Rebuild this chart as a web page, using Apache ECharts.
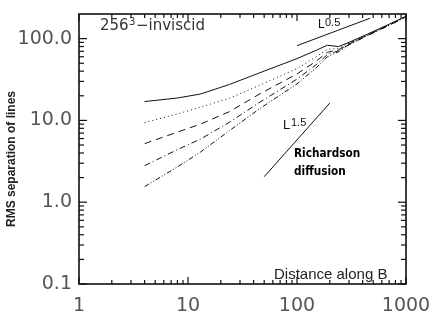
<!DOCTYPE html>
<html>
<head>
<meta charset="utf-8">
<script src="https://cdn.jsdelivr.net/npm/echarts@6/dist/echarts.min.js"></script>
<style>
  html, body { margin: 0; padding: 0; background: #fff; }
  #plot-area { width: 436px; height: 333px; }
</style>
</head>
<body>
<div id="plot-area"></div>
<script>
//--------------------- Data ---------------------------//
// Distance along B (x) and RMS separation for the five line sets
const distance = [4, 8, 13, 24, 45, 100, 150, 190, 240, 300, 420, 700, 1000];
const sepSolid = [17, 18.8, 21, 27.5, 38, 57, 72, 83, 80, 90, 110, 150, 188];
const sepDotted = [9.4, 12, 14.5, 18.7, 26.8, 43, 60, 74, 76, 88, 108, 148, 186];
const sepDashed = [5.2, 7.2, 9.0, 12.8, 20.9, 37, 53, 68, 73, 86, 107, 147, 185];
const sepDashDot = [2.8, 4.4, 5.9, 9.5, 16.5, 32, 48, 64, 71, 85, 106, 146, 185];
const sepDashDotDot = [1.55, 2.7, 4.1, 7.5, 13.8, 28, 44, 60, 69, 84, 105, 145, 184];

// Reference slopes
const halfX = [100, 470];
const halfY = [82, 178];
const richX = [50, 200];
const richY = [2.05, 16.3];

// Axis ticks
const xMajor = [1, 10, 100, 1000];
const xMinor = [2, 3, 4, 5, 6, 7, 8, 9, 20, 30, 40, 50, 60, 70, 80, 90, 200, 300, 400, 500, 600, 700, 800, 900];
const yMajor = [0.1, 1, 10, 100];
const yMinor = [0.2, 0.3, 0.4, 0.5, 0.6, 0.7, 0.8, 0.9, 2, 3, 4, 5, 6, 7, 8, 9, 20, 30, 40, 50, 60, 70, 80, 90];

const X_MIN = 1, X_MAX = 1000;
const Y_MIN = 0.1, Y_MAX = 200;

//--------------------- Functions ---------------------------//
function zip(xs, ys) {
  return xs.map((x, i) => [x, ys[i]]);
}

function lineSeries(ys, dash) {
  return {
    type: 'line',
    data: zip(distance, ys),
    showSymbol: false,
    silent: true,
    lineStyle: { color: '#111', width: 1, type: dash }
  };
}

// Inward ticks on both sides of the box, drawn through the axes
function tickSeries(values, dir, len) {
  return {
    type: 'custom',
    clip: false,
    z: 5,
    data: values.map(v => dir === 'x' ? [v, Y_MIN] : [X_MIN, v]),
    renderItem: function (params, api) {
      const st = { stroke: '#111', lineWidth: 1.2 };
      let a, b;
      if (dir === 'x') {
        a = api.coord([api.value(0), Y_MIN]);
        b = api.coord([api.value(0), Y_MAX]);
        return { type: 'group', children: [
          { type: 'line', shape: { x1: a[0], y1: a[1], x2: a[0], y2: a[1] - len }, style: st },
          { type: 'line', shape: { x1: b[0], y1: b[1], x2: b[0], y2: b[1] + len }, style: st }
        ]};
      }
      a = api.coord([X_MIN, api.value(1)]);
      b = api.coord([X_MAX, api.value(1)]);
      return { type: 'group', children: [
        { type: 'line', shape: { x1: a[0], y1: a[1], x2: a[0] + len, y2: a[1] }, style: st },
        { type: 'line', shape: { x1: b[0], y1: b[1], x2: b[0] - len, y2: b[1] }, style: st }
      ]};
    }
  };
}

function label(text, left, top, font, color, sx) {
  return {
    type: 'text', left: left, top: top, silent: true, scaleX: sx || 1,
    style: { text: text, font: font, fill: color || '#111' }
  };
}

//--------------------- Main ---------------------------//
var chartDom = document.getElementById('plot-area');
var myChart = echarts.init(chartDom, null, { renderer: 'canvas' });

const tickFont = { fontFamily: 'DejaVu Sans', fontSize: 19, color: '#555' };
const boldNarrow = 'bold 13px "DejaVu Sans Condensed", "Liberation Sans Narrow", sans-serif';

var option = {
  animation: false,
  grid: {
    left: 79, right: 30, top: 14, bottom: 49,
    show: true, borderColor: '#000', borderWidth: 1.5
  },
  xAxis: {
    type: 'log', min: X_MIN, max: X_MAX, logBase: 10,
    axisLine: { show: false },
    axisTick: { show: false },
    splitLine: { show: false },
    axisLabel: Object.assign({ margin: 13, formatter: v => String(v) }, tickFont)
  },
  yAxis: {
    type: 'log', min: Y_MIN, max: Y_MAX, logBase: 10,
    axisLine: { show: false },
    axisTick: { show: false },
    splitLine: { show: false },
    axisLabel: Object.assign({
      margin: 7, showMaxLabel: false,
      formatter: v => (yMajor.indexOf(+v) >= 0 ? Number(v).toFixed(1) : '')
    }, tickFont)
  },
  series: [
    lineSeries(sepSolid, 'solid'),
    lineSeries(sepDotted, [1, 3]),
    lineSeries(sepDashed, [7, 5]),
    lineSeries(sepDashDot, [6, 3, 1, 3]),
    lineSeries(sepDashDotDot, [5, 2, 1, 2, 1, 2]),
    { type: 'line', data: zip(halfX, halfY), showSymbol: false, silent: true,
      lineStyle: { color: '#111', width: 1 } },
    { type: 'line', data: zip(richX, richY), showSymbol: false, silent: true,
      lineStyle: { color: '#111', width: 1 } },
    tickSeries(xMajor, 'x', 7),
    tickSeries(xMinor, 'x', 4),
    tickSeries(yMajor, 'y', 8),
    tickSeries(yMinor, 'y', 5)
  ],
  graphic: [
    // title inside the box
    label('256', 100, 19, '15px "DejaVu Sans"', '#333'),
    label('3', 129, 17, '10px "DejaVu Sans"', '#333'),
    label('\u2212inviscid', 136, 19, '15px "DejaVu Sans"', '#333'),
    // slope labels
    label('L', 318, 19, '12px "Liberation Sans"'),
    label('0.5', 325, 17, '11px "Liberation Sans"'),
    label('L', 283, 119, '13px "Liberation Sans"'),
    label('1.5', 291, 117, '11px "Liberation Sans"'),
    label('Richardson', 294, 147, boldNarrow, '#000', 0.9),
    label('diffusion', 294, 165, boldNarrow, '#000', 0.9),
    label('Distance along B', 274, 267, '15px "Liberation Sans"', '#222'),
    // y axis title
    {
      type: 'text', x: 12, y: 159, rotation: Math.PI / 2, silent: true,
      style: {
        text: 'RMS separation of lines', font: 'bold 12px "Liberation Sans"',
        fill: '#222', align: 'center', verticalAlign: 'middle'
      }
    }
  ]
};

option && myChart.setOption(option);
</script>
</body>
</html>
